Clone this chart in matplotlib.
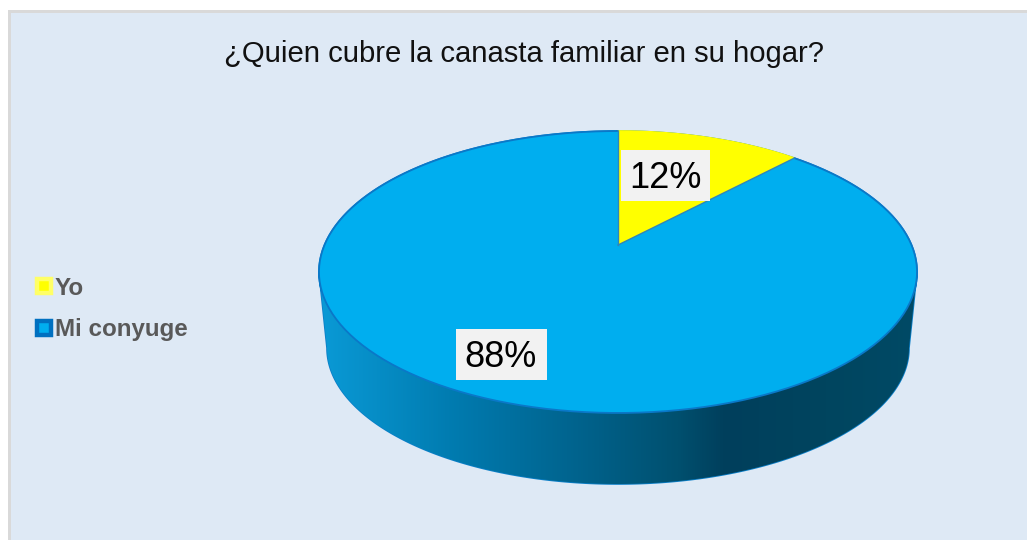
import numpy as np
import matplotlib
matplotlib.use("Agg")
import matplotlib.pyplot as plt
from matplotlib.patches import Polygon, Rectangle
from matplotlib.colors import LinearSegmentedColormap
from matplotlib.lines import Line2D

title = "¿Quien cubre la canasta familiar en su hogar?"
categories = ["Yo", "Mi conyuge"]
shares = [12, 88]
labels = ["12%", "88%"]
face_colors = ["#FFFF00", "#00AEEF"]
legend_edges = ["#FFFF66", "#0070C0"]
side_colors = ["#0A9AD6", "#0079AD", "#00618A", "#00506F", "#003F5C", "#00455F", "#004A66"]
side_stops = [0.0, 0.24, 0.45, 0.6, 0.68, 0.85, 1.0]

plt.rcParams["font.family"] = ["Liberation Sans", "DejaVu Sans"]
W, H = 1027, 540
fig = plt.figure(figsize=(W / 100, H / 100), dpi=100, facecolor="white")
ax = fig.add_axes([0, 0, 1, 1])
ax.set_xlim(0, W)
ax.set_ylim(H, 0)
ax.axis("off")

# chart area and its light grey border (top and left only are visible)
ax.add_patch(Rectangle((8, 10), W, H, fc="#D9D9D9", ec="none", zorder=0))
ax.add_patch(Rectangle((11, 13), W, H, fc="#DEE9F5", ec="none", zorder=1))

# perspective view of the pie disc
CX, CY = 618.0, 245.0
K, P, Q = 0.1915, 135.8, 293.5


def project(turn):
    th = 2 * np.pi * np.asarray(turn, dtype=float)
    u, v = np.sin(th), np.cos(th)
    w = 1 + K * v
    return CX + Q * u / w, CY - P * v / w


# side wall
LOW_CX, LOW_CY, LOW_A, LOW_B = 618.0, 348.0, 291.0, 136.0
t = np.linspace(np.pi, 0, 300)
low_x = LOW_CX + LOW_A * np.cos(t)
low_y = LOW_CY + LOW_B * np.sin(t)
full = np.linspace(0, 1, 721)
rim_x, rim_y = project(full)
side_pts = np.vstack([
    np.column_stack([[319, 319], [272, 272]]),
    np.column_stack([low_x, low_y]),
    np.column_stack([[917], [272]]),
    np.column_stack([rim_x[::-1], rim_y[::-1]]),
])
side_poly = Polygon(side_pts, closed=True, fc="none", ec="#0B7FC8", lw=1.2, zorder=2)
ax.add_patch(side_poly)
cmap = LinearSegmentedColormap.from_list("side", list(zip(side_stops, side_colors)))
img = ax.imshow(np.linspace(0, 1, 512)[None, :], extent=(319, 917, 490, 260),
                cmap=cmap, aspect="auto", zorder=2, interpolation="bilinear")
img.set_clip_path(side_poly)
ax.set_xlim(0, W)
ax.set_ylim(H, 0)

# top face, one wedge per share
edges = np.cumsum([0] + shares) / sum(shares)
for i, (a, b) in enumerate(zip(edges[:-1], edges[1:])):
    x, y = project(np.linspace(a, b, 300))
    pts = np.column_stack([np.r_[CX, x], np.r_[CY, y]])
    ax.add_patch(Polygon(pts, closed=True, fc=face_colors[i], ec="none", zorder=3))
    ax.plot(x, y, color=face_colors[i] if i == 0 else "#0A78C8", lw=1.3, zorder=4,
            solid_capstyle="round")
bx, by = project(edges[1])
ax.plot([CX, bx], [CY, by], color="#2F86B8", lw=1.0, zorder=4)
ax.plot([CX, CX], [CY, 131], color="#2F86B8", lw=1.0, zorder=4)

# data labels
label_pos = [(665.5, 178.5), (500, 357.5)]
for txt, (lx, ly) in zip(labels, label_pos):
    ax.text(lx, ly, txt, fontsize=26, color="black", ha="center", va="center", zorder=6)
box_rects = [(621, 150, 89, 51), (455.5, 329, 91.5, 51)]
for r in box_rects:
    ax.add_patch(Rectangle(r[:2], r[2], r[3], fc="#F2F2F2", ec="none", zorder=5))

# title
ax.text(524.5, 54, title, fontsize=21.1, color="#111111", ha="center", va="center", zorder=6)

# legend
handles = [Line2D([], [], ls="none", marker="s", ms=10, mfc=c, mec=e, mew=3.2)
           for c, e in zip(face_colors, legend_edges)]
ax.legend(handles, categories, loc="center left", bbox_to_anchor=(35 / W, 1 - 309 / H),
          bbox_transform=fig.transFigure, frameon=False, labelcolor="#595959",
          prop={"family": "Liberation Sans", "weight": "bold", "size": 17.4},
          handlelength=0.75, handletextpad=0.06, labelspacing=0.78,
          borderpad=0, borderaxespad=0)

fig.savefig("out.png", dpi=100)
